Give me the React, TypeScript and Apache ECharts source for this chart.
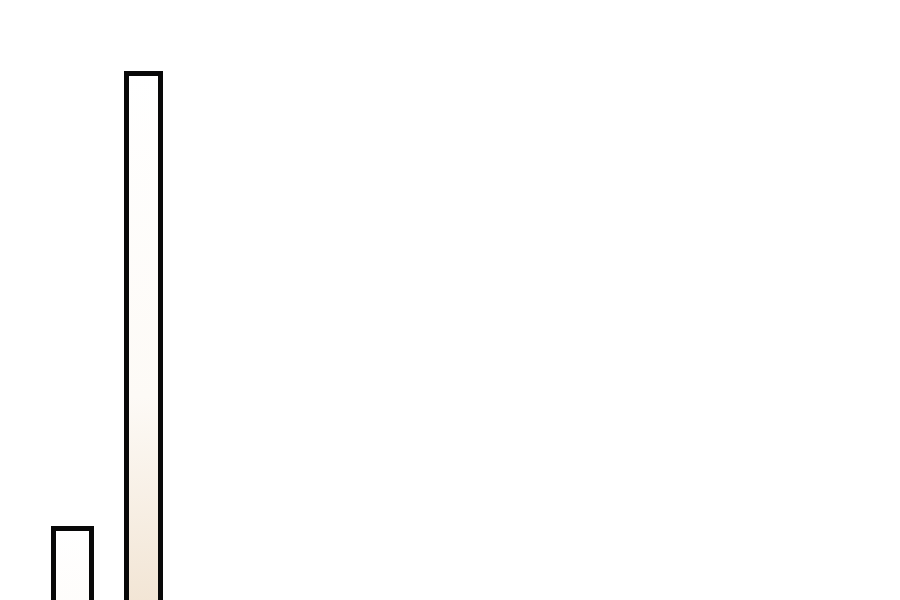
import { useEffect, useRef } from "react";
import * as echarts from "echarts";

type EChartsOption = echarts.EChartsOption;

// 类目与数值（从图上估读，柱子底部在画面之外）
const categories = ["1", "2"];
const firstValues = [474, "-"];
const secondValues = ["-", 929];

const barFill = {
  type: "linear" as const,
  x: 0,
  y: 0,
  x2: 0,
  y2: 1,
  colorStops: [
    { offset: 0, color: "#ffffff" },
    { offset: 0.35, color: "#fdfaf6" },
    { offset: 1, color: "#ddbd95" },
  ],
};

export default function App() {
  const chartRef = useRef<HTMLDivElement>(null);

  useEffect(() => {
    if (!chartRef.current) return;

    const chart = echarts.init(chartRef.current, undefined, { renderer: "svg" });
    const option: EChartsOption = {
      animation: false,
      backgroundColor: "#ffffff",
      grid: { left: 34, top: 0, bottom: 0, width: 146 },
      xAxis: {
        type: "category",
        data: categories,
        show: false,
      },
      yAxis: {
        type: "value",
        min: 0,
        max: 1000,
        show: false,
      },
      series: [
        {
          type: "bar",
          data: firstValues,
          barWidth: 43,
          barGap: "-100%",
          itemStyle: { color: barFill, borderColor: "#080808", borderWidth: 5 },
        },
        {
          type: "bar",
          data: secondValues,
          barWidth: 39,
          barGap: "-100%",
          itemStyle: { color: barFill, borderColor: "#080808", borderWidth: 5 },
        },
      ],
    };
    chart.setOption(option);

    // 销毁
    return () => {
      chart.dispose();
    };
  }, []);

  return (
    <div
      style={{
        position: "fixed",
        left: 0,
        top: 0,
        width: 900,
        height: 600,
        overflow: "hidden",
        background: "#ffffff",
      }}
    >
      <div ref={chartRef} style={{ width: 900, height: 1000 }} />
    </div>
  );
}
